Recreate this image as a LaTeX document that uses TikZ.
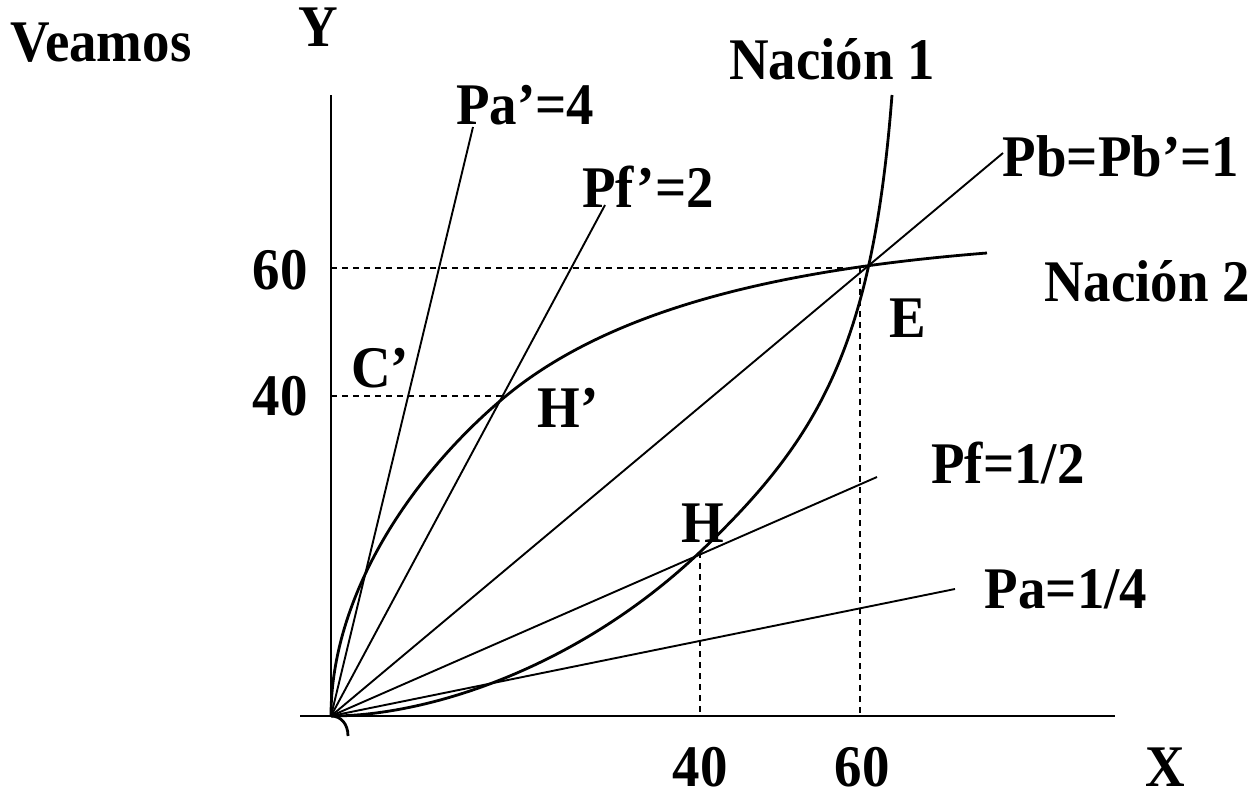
\documentclass[tikz,border=0pt]{standalone}
\usepackage{fontspec}
\newfontfamily\lblfont{Liberation Serif}[FakeStretch=0.93]
\usetikzlibrary{calc}

\begin{document}
\begin{tikzpicture}[x=1pt, y=-1pt,
    axis/.style={line width=2pt},
    ray/.style={line width=1.9pt},
    frontier/.style={line width=2.8pt},
    guide/.style={dash pattern=on 6pt off 5pt, line width=1.4pt},
    lbl/.style={font=\lblfont\bfseries\fontsize{59}{61}\selectfont, inner sep=0pt, anchor=base}
]
    \useasboundingbox (0,0) rectangle (1253,799);

    % ========== AXES ==========
    \coordinate (O) at (331,716);
    \coordinate (xend) at (1115,716);
    \coordinate (xstart) at (300,716);
    \coordinate (ytop) at (331,95);
    \draw[axis] (xstart) -- (xend);
    \draw[axis] (O) -- (ytop);

    % ========== PRICE RAYS ==========
    \coordinate (pa2_end) at (473,127);
    \coordinate (pf2_end) at (605,205);
    \coordinate (pb_end) at (1003,153);
    \coordinate (pf_end) at (877,477);
    \coordinate (pa_end) at (955,589);
    \foreach \r in {pa2_end, pf2_end, pb_end, pf_end, pa_end}
        \draw[ray] (O) -- (\r);

    % ========== FRONTIERS ==========
    \coordinate (H) at (700,552);
    \coordinate (n1top) at (892,95);
    \coordinate (n2mid) at (500,401);
    \coordinate (n2end) at (987,253);
    % Nacion 1 (convex)
    \draw[frontier] (O) .. controls (431,716) and (580,666) .. (H)
        .. controls (820,438) and (872.75,345) .. (n1top);
    % Nacion 2 (concave)
    \draw[frontier] (O) .. controls (331,596) and (410,478) .. (n2mid)
        .. controls (610,306.4) and (787,269) .. (n2end);
    \draw[frontier] (O) .. controls (341,716) and (348,724) .. (348,736);

    % ========== GUIDES ==========
    \coordinate (E) at (860,268);
    \coordinate (Hp) at (505,396);
    \draw[guide] (O |- E) -- (E) -- (E |- O);
    \draw[guide] (O |- Hp) -- (Hp);
    \draw[guide] (H) -- (H |- O);

    % ========== LABELS ==========
    \node[lbl] (veamos) at (101,62) {Veamos};
    \node[lbl] (ylab) at (318,47) {Y};
    \node[lbl] (nac1) at (832,80) {Nación 1};
    \node[lbl] (pa2) at (525,125) {Pa’=4};
    \node[lbl] (pf2) at (648,208) {Pf’=2};
    \node[lbl] (pb) at (1121,177) {Pb=Pb’=1};
    \node[lbl] (y60) at (280,290) {60};
    \node[lbl, anchor=base east] (nac2) at (1250,302) {Nación 2};
    \node[lbl] (elab) at (908,338) {E};
    \node[lbl] (cp) at (380,388) {C’};
    \node[lbl] (y40) at (280,415) {40};
    \node[lbl] (hp) at (568,428) {H’};
    \node[lbl] (pf) at (1008,483) {Pf=1/2};
    \node[lbl] (hlab) at (703,542) {H};
    \node[lbl] (pa) at (1066,608) {Pa=1/4};
    \node[lbl] (x40) at (700,786) {40};
    \node[lbl] (x60) at (862,786) {60};
    \node[lbl] (xlab) at (1165,786) {X};

\end{tikzpicture}
\end{document}
